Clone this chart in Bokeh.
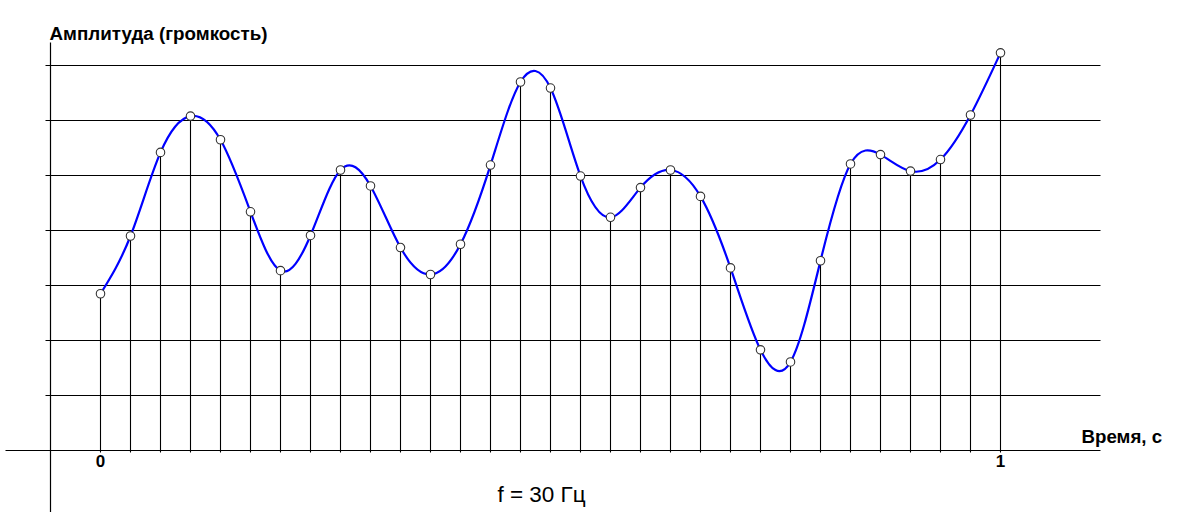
import numpy as np
from bokeh.plotting import figure
from bokeh.models import Range1d
from bokeh.core.properties import value
from bokeh.embed import file_html
from bokeh.resources import INLINE

# ---- data ----
n_samples = 31
sample_t = [i / 30 for i in range(n_samples)]
sample_amp = [2.85, 3.90, 5.42, 6.08, 5.65, 4.34, 3.27, 3.91, 5.10, 4.81,
              3.69, 3.20, 3.75, 5.19, 6.70, 6.59, 4.99, 4.24, 4.78, 5.10,
              4.62, 3.32, 1.83, 1.61, 3.45, 5.21, 5.38, 5.08, 5.29, 6.10, 7.23]
grid_levels = [1, 2, 3, 4, 5, 6, 7]
x_tick_values = [0, 1]
x_tick_labels = ["0", "1"]
y_title = "Амплитуда (громкость)"
x_title = "Время, с"
freq_label = "f = 30 Гц"

# ---- natural cubic spline -> bezier segments ----
t = np.array(sample_t)
y = np.array(sample_amp)
n = len(t)
h = np.diff(t)
A = np.zeros((n, n))
b = np.zeros(n)
A[0, 0] = 1
A[-1, -1] = 1
for i in range(1, n - 1):
    A[i, i - 1] = h[i - 1]
    A[i, i] = 2 * (h[i - 1] + h[i])
    A[i, i + 1] = h[i]
    b[i] = 6 * ((y[i + 1] - y[i]) / h[i] - (y[i] - y[i - 1]) / h[i - 1])
M = np.linalg.solve(A, b)
x0 = t[:-1]; x1 = t[1:]; y0 = y[:-1]; y1 = y[1:]
sl = (y1 - y0) / h
m_left = sl - h * (2 * M[:-1] + M[1:]) / 6
m_right = sl + h * (M[:-1] + 2 * M[1:]) / 6
cx0 = x0 + h / 3
cy0 = y0 + m_left * h / 3
cx1 = x1 - h / 3
cy1 = y1 - m_right * h / 3

# ---- figure: frame fills whole canvas; pixel x = 100 + 900 t, y = 450 - 55 v ----
W, H = 1174, 512
def tx(px):
    return (px - 100) / 900.0
def vy(py):
    return (450 - py) / 55.0

p = figure(width=W, height=H, output_backend="svg", toolbar_location=None,
           x_range=Range1d(tx(0), tx(W)), y_range=Range1d(vy(H), vy(0)),
           x_axis_type=None, y_axis_type=None, min_border=0)
p.grid.visible = False
p.outline_line_color = None
p.background_fill_color = "white"

# horizontal grid lines
p.segment(x0=[tx(45)] * len(grid_levels), y0=grid_levels,
          x1=[tx(1100)] * len(grid_levels), y1=grid_levels,
          line_color="black", line_width=1.2)
# y axis line
p.segment(x0=[tx(50)], y0=[vy(42)], x1=[tx(50)], y1=[vy(530)],
          line_color="black", line_width=1.2)
# x axis line
p.segment(x0=[tx(5)], y0=[0], x1=[tx(1100)], y1=[0],
          line_color="black", line_width=1.2)
# stems
p.segment(x0=sample_t, y0=[vy(452)] * n, x1=sample_t, y1=sample_amp,
          line_color="black", line_width=1.1)
# smooth curve
p.bezier(x0=x0, y0=y0, x1=x1, y1=y1, cx0=cx0, cy0=cy0, cx1=cx1, cy1=cy1,
         line_color="#0000ff", line_width=2.2)
# sample markers
p.scatter(sample_t, sample_amp, size=8.5, marker="circle",
          fill_color="white", line_color="#333333", line_width=1.1)

# texts
p.text(x=[tx(49)], y=[vy(33)], text=[y_title], text_font=value("Liberation Sans"),
       text_font_style="bold", text_font_size="18.8px", text_baseline="alphabetic",
       text_align="left", text_color="black")
p.text(x=[tx(1081)], y=[vy(436)], text=[x_title], text_font=value("Liberation Sans"),
       text_font_style="bold", text_font_size="18.7px", text_baseline="alphabetic",
       text_align="left", text_color="black")
p.text(x=x_tick_values, y=[vy(454)] * len(x_tick_values), text=x_tick_labels,
       text_font=value("Liberation Sans"), text_font_style="bold",
       text_font_size="17px", text_baseline="top", text_align="center",
       text_color="black")
p.text(x=[tx(541)], y=[vy(494)], text=[freq_label], text_font=value("Liberation Sans"),
       text_font_size="22.5px", text_baseline="alphabetic", text_align="center",
       text_color="black")

open("out.html", "w").write(file_html(p, INLINE))
